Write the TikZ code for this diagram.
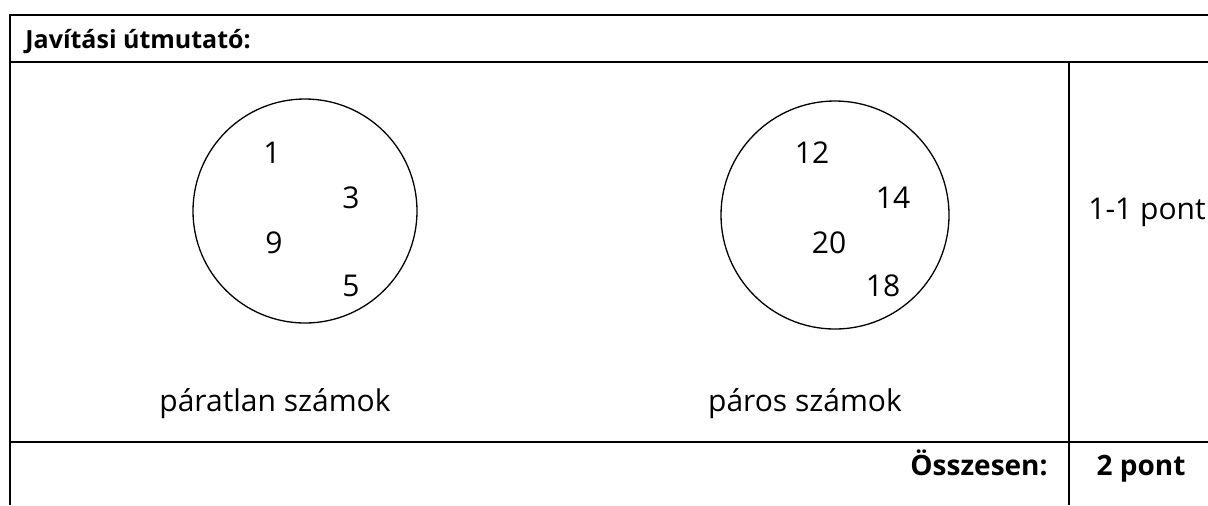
\documentclass[tikz,border=0pt]{standalone}
\usepackage{fontspec}
\setmainfont{Open Sans}
\begin{document}
\begin{tikzpicture}[x=0.5pt,y=-0.5pt,
  rule/.style={line width=1.1pt},
  ring/.style={draw,circle,line width=0.65pt,inner sep=0pt},
  txt/.style={font=\fontsize{15}{18}\selectfont,inner sep=0pt},
  htxt/.style={font=\fontsize{12.5}{15}\selectfont\bfseries,inner sep=0pt},
  btxt/.style={font=\fontsize{14}{17}\selectfont\bfseries,inner sep=0pt}]
\useasboundingbox (0,0) rectangle (1208,505);
% table rules
\coordinate (tl) at (10,15);
\coordinate (tr) at (1208,15);
\coordinate (hl) at (10,62);
\coordinate (hr) at (1208,62);
\coordinate (bl) at (10,505);
\coordinate (sl) at (10,442);
\coordinate (sr) at (1208,442);
\coordinate (vt) at (1069,62);
\coordinate (vb) at (1069,505);
\draw[rule] (tr) -- (tl) -- (bl);
\draw[rule] (hl) -- (hr);
\draw[rule] (sl) -- (sr);
\draw[rule] (vt) -- (vb);
% header
\node[htxt,anchor=base west] (head) at (25,48) {Javítási útmutató:};
% circles
\node[ring,minimum size=112pt] (cl) at (305,211) {};
\node[ring,minimum size=114pt] (cr) at (835,215) {};
% numbers left
\node[txt] (n1) at (272,153) {1};
\node[txt] (n3) at (351,198) {3};
\node[txt] (n9) at (274,243) {9};
\node[txt] (n5) at (351,286) {5};
% numbers right
\node[txt] (n12) at (812,153) {12};
\node[txt] (n14) at (893,198) {14};
\node[txt] (n20) at (829,243) {20};
\node[txt] (n18) at (883,286) {18};
% labels
\node[txt,anchor=base] (lodd) at (275,411) {páratlan számok};
\node[txt,anchor=base] (leven) at (805,411) {páros számok};
\node[txt,anchor=base west] (pts) at (1088,219) {1-1 pont};
% total row
\node[btxt,anchor=base east] (tot) at (1048,475) {Összesen:};
\node[btxt,anchor=base] (totp) at (1141,475) {2 pont};
\end{tikzpicture}
\end{document}
